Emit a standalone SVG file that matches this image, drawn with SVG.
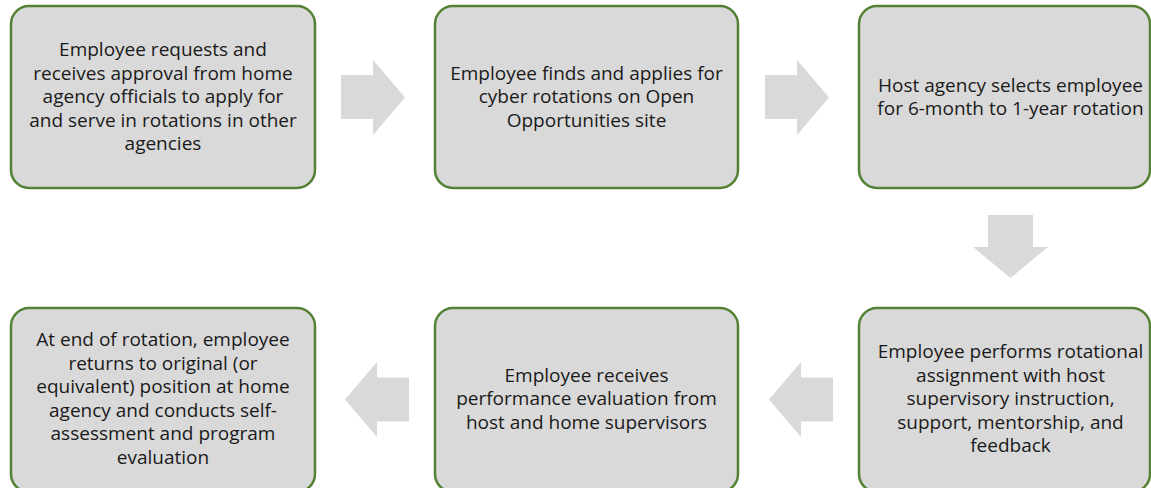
<svg xmlns="http://www.w3.org/2000/svg" width="1151" height="488" viewBox="0 0 1151 488">
<style>
.box{fill:#d9d9d9;stroke:#548235;stroke-width:2.5}
.arr{fill:#d9d9d9;stroke:none}
text{font-family:"Open Sans","Liberation Sans",sans-serif;font-size:19px;fill:#1a1a1a;text-anchor:middle}
</style>
<rect x="0" y="0" width="1151" height="488" fill="#ffffff"/>
<g id="connectors">
<polygon class="arr" points="341,75 373,75 373,60 405,97.5 373,135 373,119 341,119"/>
<polygon class="arr" points="765,75 797,75 797,60 829,97.5 797,135 797,119 765,119"/>
<polygon class="arr" points="988,215 1033,215 1033,247 1048,247 1010.5,278 973,247 988,247"/>
<polygon class="arr" points="409,377.5 377,377.5 377,362 345,399.5 377,437 377,421.5 409,421.5"/>
<polygon class="arr" points="833,377.5 801,377.5 801,362 769,399.5 801,437 801,421.5 833,421.5"/>
</g>
<g id="node1">
<rect class="box" x="11" y="6" width="304" height="182" rx="18"/>
<text x="163"><tspan x="163" y="56">Employee requests and</tspan><tspan x="163" y="79.5">receives approval from home</tspan><tspan x="163" y="103">agency officials to apply for</tspan><tspan x="163" y="126.5">and serve in rotations in other</tspan><tspan x="163" y="150">agencies</tspan></text>
</g>
<g id="node2">
<rect class="box" x="435" y="6" width="303" height="182" rx="18"/>
<text x="586.5"><tspan x="586.5" y="79.5">Employee finds and applies for</tspan><tspan x="586.5" y="103">cyber rotations on Open</tspan><tspan x="586.5" y="126.5">Opportunities site</tspan></text>
</g>
<g id="node3">
<rect class="box" x="859" y="6" width="291" height="182" rx="18"/>
<text x="1010.5"><tspan x="1010.5" y="91.5">Host agency selects employee</tspan><tspan x="1010.5" y="115">for 6-month to 1-year rotation</tspan></text>
</g>
<g id="node4">
<rect class="box" x="859" y="308" width="291" height="184" rx="18"/>
<text x="1010.5"><tspan x="1010.5" y="358">Employee performs rotational</tspan><tspan x="1010.5" y="381.5">assignment with host</tspan><tspan x="1010.5" y="405">supervisory instruction,</tspan><tspan x="1010.5" y="428.5">support, mentorship, and</tspan><tspan x="1010.5" y="452">feedback</tspan></text>
</g>
<g id="node5">
<rect class="box" x="435" y="308" width="303" height="184" rx="18"/>
<text x="586.5"><tspan x="586.5" y="381.5">Employee receives</tspan><tspan x="586.5" y="405">performance evaluation from</tspan><tspan x="586.5" y="428.5">host and home supervisors</tspan></text>
</g>
<g id="node6">
<rect class="box" x="11" y="308" width="304" height="184" rx="18"/>
<text x="163"><tspan x="163" y="346">At end of rotation, employee</tspan><tspan x="163" y="369.5">returns to original (or</tspan><tspan x="163" y="393">equivalent) position at home</tspan><tspan x="163" y="416.5">agency and conducts self-</tspan><tspan x="163" y="440">assessment and program</tspan><tspan x="163" y="463.5">evaluation</tspan></text>
</g>
</svg>
